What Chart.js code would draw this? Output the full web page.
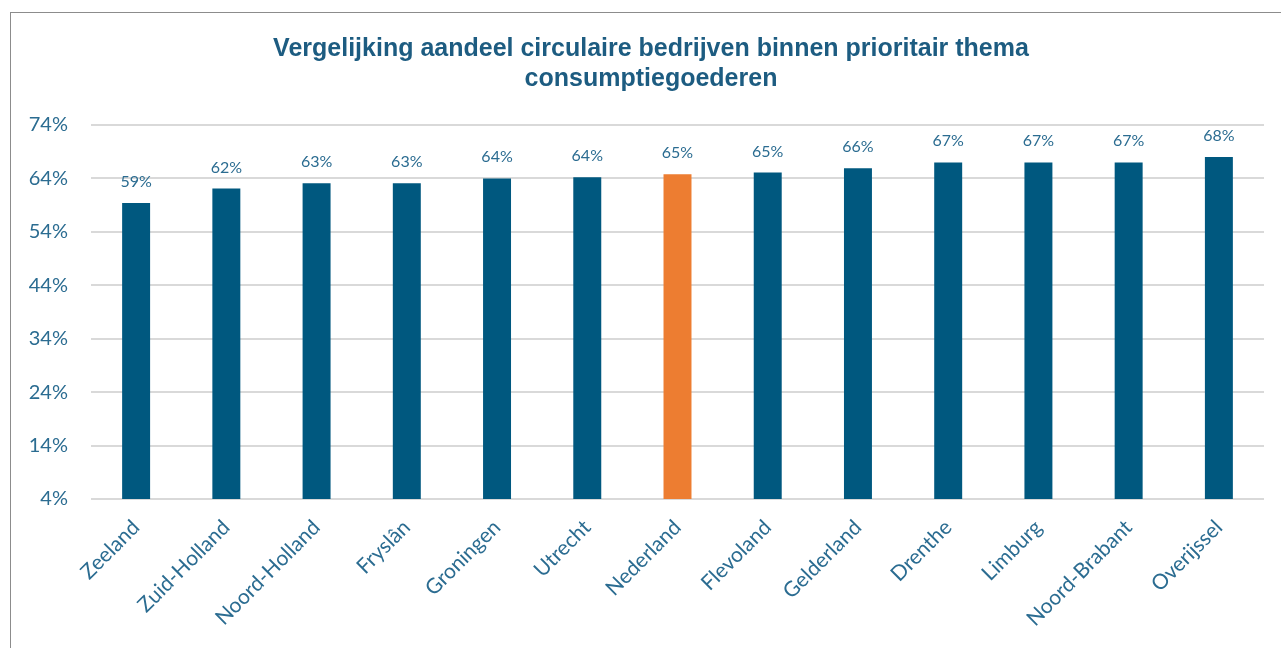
<!DOCTYPE html>
<html>
<head>
<meta charset="utf-8">
<script src="https://cdn.jsdelivr.net/npm/chart.js@4"></script>
<style>
  body { margin: 0; background: #fff; overflow: hidden; }
  #frame { position: absolute; left: 10px; top: 12px; width: 1300px; height: 700px; border: 1px solid #8c8c8c; }
  #wrap { position: absolute; left: 0; top: 0; width: 1281px; height: 648px; }
</style>
</head>
<body>
<div id="frame"></div>
<div id="wrap"><canvas id="myChart"></canvas></div>
<script>
const provinces = ['Zeeland', 'Zuid-Holland', 'Noord-Holland', 'Fryslân', 'Groningen', 'Utrecht', 'Nederland',
  'Flevoland', 'Gelderland', 'Drenthe', 'Limburg', 'Noord-Brabant', 'Overijssel']
const shares = [59.4, 62.1, 63.1, 63.1, 64.0, 64.2, 64.8, 65.1, 65.9, 67.0, 67.0, 67.0, 68.0]
const yTicks = [4, 14, 24, 34, 44, 54, 64, 74]
const titleLines = ['Vergelijking aandeel circulaire bedrijven binnen prioritair thema', 'consumptiegoederen']

const blue = '#00587f'
const orange = '#ed7d31'
const textBlue = '#2b6c91'

// draws the percentage above each bar
const valueLabels = {
  id: 'valueLabels',
  afterDatasetsDraw(chart) {
    const ctx = chart.ctx
    const meta = chart.getDatasetMeta(0)
    ctx.save()
    ctx.font = '16px Lato'
    ctx.fillStyle = textBlue
    ctx.textAlign = 'center'
    ctx.textBaseline = 'alphabetic'
    meta.data.forEach((bar, i) => {
      ctx.fillText(Math.round(shares[i]) + '%', bar.x, bar.y - 16)
    })
    ctx.restore()
  }
}

const ctx = document.getElementById('myChart')
new Chart(ctx, {
  type: 'bar',
  data: {
    labels: provinces,
    datasets: [{
      data: shares,
      backgroundColor: provinces.map(p => p === 'Nederland' ? orange : blue),
      barPercentage: 0.31,
      categoryPercentage: 1
    }]
  },
  options: {
    responsive: true,
    maintainAspectRatio: false,
    animation: false,
    layout: { padding: { left: 21, right: 0, top: 0, bottom: 0 } },
    plugins: {
      legend: { display: false },
      tooltip: { enabled: false },
      title: {
        display: true,
        text: titleLines,
        color: '#1d5c81',
        font: { family: 'Liberation Sans', size: 25, weight: 'bold' },
        lineHeight: 1.24,
        padding: { top: 34, bottom: 31 }
      }
    },
    scales: {
      y: {
        min: 4,
        max: 74,
        afterBuildTicks(scale) { scale.ticks = yTicks.map(v => ({ value: v })) },
        afterFit(scale) { scale.width = 70 },
        border: { display: false },
        grid: { color: '#d9d9d9', lineWidth: 2, drawTicks: false },
        ticks: {
          padding: 23,
          color: textBlue,
          font: { family: 'Lato', size: 20 },
          callback: v => v + '%'
        }
      },
      // empty right axis, only keeps space free on the right side
      yRight: {
        position: 'right',
        afterFit(scale) { scale.width = 17 },
        border: { display: false },
        grid: { display: false },
        ticks: { display: false }
      },
      x: {
        afterFit(scale) { scale.height = 149 },
        border: { display: false },
        grid: { display: false },
        ticks: {
          minRotation: 45,
          maxRotation: 45,
          padding: 8,
          color: textBlue,
          font: { family: 'Lato', size: 21 }
        }
      }
    }
  },
  plugins: [valueLabels]
})
</script>
</body>
</html>
